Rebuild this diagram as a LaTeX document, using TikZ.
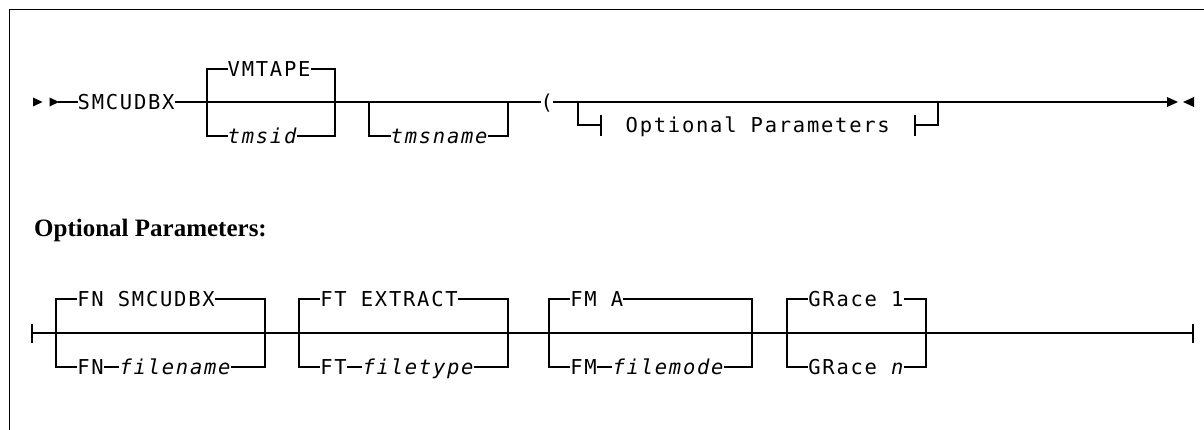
\documentclass[tikz,border=0pt]{standalone}
\usepackage{fontspec}
\setmainfont{Liberation Serif}
\newfontfamily\rrfont[LetterSpace=8.5, ItalicFont={DejaVu Sans Mono Oblique}]{DejaVu Sans Mono}
\begin{document}
\begin{tikzpicture}[x=1pt,y=-1pt,
  rail/.style={line width=1.8pt},
  frameline/.style={line width=1.6pt},
  kw/.style={font={\rrfont\fontsize{20.5}{24}\selectfont}, inner sep=0pt, text height=14.9pt, text depth=0pt, anchor=west},
  var/.style={kw, font={\rrfont\fontsize{20.5}{24}\selectfont\itshape}},
  head/.style={font={\bfseries\fontsize{25}{30}\selectfont}, inner sep=0pt, anchor=base west},
  tip/.style={fill=black, draw=none}]
\useasboundingbox (0,0) rectangle (1204,430);
% frame
\draw[frameline] (9.5,430) -- (9.5,9.5) -- (1204,9.5);

% ---------- top diagram ----------
\fill[tip] (33,97.5) -- (42.5,102) -- (33,106.5) -- cycle;
\fill[tip] (49.5,97.5) -- (59,102) -- (49.5,106.5) -- cycle;
\coordinate (s0) at (58,102);
\node[kw] (smc) at (77.5,102) {SMCUDBX};
\node[kw] (vm) at (227.5,69) {VMTAPE};
\node[var] (tmsid) at (227.5,136) {tmsid};
\node[var] (tmsn) at (390.5,136) {tmsname};
\node[kw] (par) at (540.5,102) {(};
\node[kw] (opt) at (625.5,125) {Optional Parameters};
\coordinate (b1L) at (207,136);
\coordinate (b1R) at (335,136);
\coordinate (b2L) at (369,102);
\coordinate (b2R) at (508,102);
\coordinate (o1) at (578,102);
\coordinate (o2) at (601,125);
\coordinate (t1a) at (601,115);
\coordinate (t1b) at (601,136);
\coordinate (t2a) at (915,115);
\coordinate (t2b) at (915,136);
\coordinate (t2m) at (915,125);
\coordinate (o3) at (938,102);
\coordinate (e1) at (1167,102);

\draw[rail] (s0) -- (smc.west);
\draw[rail] (smc.east) -- (par.west);
\draw[rail] (par.east) -- (e1);
\draw[rail] (vm.west) -| (b1L) -- (tmsid.west);
\draw[rail] (vm.east) -| (b1R) -- (tmsid.east);
\draw[rail] (b2L) |- (tmsn.west);
\draw[rail] (tmsn.east) -| (b2R);
\draw[rail] (o1) |- (o2);
\draw[rail] (t1a) -- (t1b);
\draw[rail] (t2a) -- (t2b);
\draw[rail] (t2m) -| (o3);
\fill[tip] (1167,97) -- (1178,102) -- (1167,107) -- cycle;
\fill[tip] (1194,97) -- (1183,102) -- (1194,107) -- cycle;

% ---------- heading ----------
\node[head] (hd) at (34,237) {Optional Parameters:};

% ---------- bottom diagram ----------
\coordinate (L0a) at (32,324);
\coordinate (L0b) at (32,343);
\coordinate (L0) at (32,333);
\coordinate (R0a) at (1193,324);
\coordinate (R0b) at (1193,343);
\coordinate (R0) at (1193,333);
\draw[rail] (L0a) -- (L0b);
\draw[rail] (R0a) -- (R0b);
\draw[rail] (L0) -- (R0);

% FN
\node[kw] (fn1) at (77.2,299) {FN SMCUDBX};
\node[kw] (fn2a) at (77.2,367) {FN};
\node[var] (fn2b) at (119.4,367) {filename};
\coordinate (c1L) at (56,367);
\coordinate (c1R) at (265,367);
\draw[rail] (fn1.west) -| (c1L) -- (fn2a.west);
\draw[rail] (fn2a.east) -- (fn2b.west);
\draw[rail] (fn1.east) -| (c1R) -- (fn2b.east);

% FT
\node[kw] (ft1) at (320.2,299) {FT EXTRACT};
\node[kw] (ft2a) at (320.2,367) {FT};
\node[var] (ft2b) at (362.4,367) {filetype};
\coordinate (c2L) at (299,367);
\coordinate (c2R) at (508,367);
\draw[rail] (ft1.west) -| (c2L) -- (ft2a.west);
\draw[rail] (ft2a.east) -- (ft2b.west);
\draw[rail] (ft1.east) -| (c2R) -- (ft2b.east);

% FM
\node[kw] (fm1) at (570.2,299) {FM A};
\node[kw] (fm2a) at (570.2,367) {FM};
\node[var] (fm2b) at (612.4,367) {filemode};
\coordinate (c3L) at (549,367);
\coordinate (c3R) at (752,367);
\draw[rail] (fm1.west) -| (c3L) -- (fm2a.west);
\draw[rail] (fm2a.east) -- (fm2b.west);
\draw[rail] (fm1.east) -| (c3R) -- (fm2b.east);

% GRace
\node[kw] (gr1) at (808.2,299) {GRace 1};
\node[kw] (gr2) at (808.2,367) {GRace {\itshape n}};
\coordinate (c4L) at (787,367);
\coordinate (c4R) at (926,367);
\draw[rail] (gr1.west) -| (c4L) -- (gr2.west);
\draw[rail] (gr1.east) -| (c4R) -- (gr2.east);
\end{tikzpicture}
\end{document}
